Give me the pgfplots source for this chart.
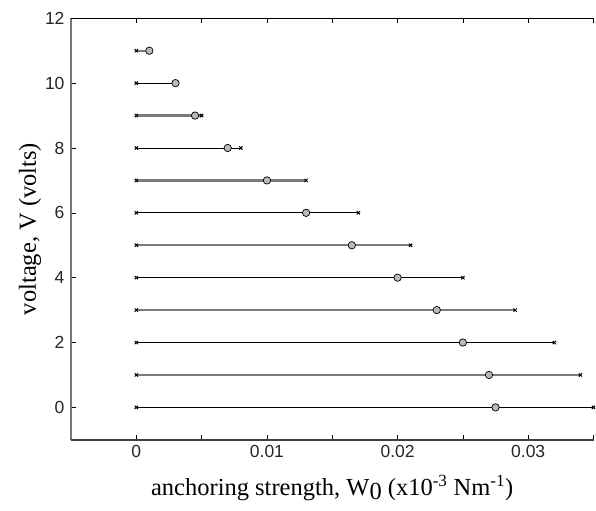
\documentclass[border=0pt]{standalone}
\usepackage{pgfplots}
\pgfplotsset{compat=1.18}
\usepackage{fontspec}
\setmainfont{Liberation Serif}
\newfontfamily\tickfont{Liberation Sans}

\definecolor{barGray}{RGB}{122,122,122}
\definecolor{dotGray}{RGB}{185,185,185}
\definecolor{axGray}{RGB}{120,120,120}

\begin{document}
\begin{tikzpicture}
\begin{axis}[
  scale only axis,
  width=522.5pt, height=421.5pt,
  xmin=-0.005, xmax=0.035,
  ymin=-1, ymax=12,
  xtick={0,0.01,0.02,0.03},
  minor xtick={0.005,0.015,0.025,0.035},
  ytick={0,2,4,6,8,10,12},
  xtick pos=both, ytick pos=left,
  tick align=inside,
  major tick length=5pt, minor tick length=5pt,
  every tick/.style={black, line width=0.6pt},
  minor tick style={black, line width=0.6pt},
  axis line style={draw=none},
  scaled x ticks=false,
  xticklabel style={/pgf/number format/fixed, /pgf/number format/precision=3},
  /pgf/number format/assume math mode=true,
  ticklabel style={font=\tickfont\fontsize{17.5}{17.5}\selectfont, text=black!85},
  xticklabel style={yshift=-2pt},
  yticklabel style={xshift=-3pt},
  xlabel={anchoring strength, W\raisebox{-4pt}{0} (x10\textsuperscript{-3} Nm\textsuperscript{-1})},
  ylabel={voltage, V (volts)},
  label style={font=\fontsize{24.5}{24.5}\selectfont},
  xlabel style={yshift=-11pt},
  ylabel style={yshift=-3pt},
  clip=false,
]
% bars from 0 to the upper value, with x marks at both ends
\addplot[black, line width=0.9pt, mark=x, mark size=2.3pt, mark options={black, line width=1pt},
  empty line=jump] table {
0      0
0.035  0

0      2
0.032  2

0      4
0.025  4

0      6
0.017  6

0      8
0.008  8

0      10
0.003  10
};
\addplot[barGray, line width=2.2pt, mark=x, mark size=2.3pt, mark options={black, line width=1pt},
  empty line=jump] table {
0      1
0.034  1

0      3
0.029  3

0      5
0.021  5

0      7
0.013  7

0      9
0.005  9

0      11
0.001  11
};
% circles
\addplot[only marks, mark=*, mark size=3.7pt, mark options={fill=dotGray, draw=black, line width=0.7pt}]
  table {
0.0275  0
0.0270  1
0.0250  2
0.0230  3
0.0200  4
0.0165  5
0.0130  6
0.0100  7
0.0070  8
0.0045  9
0.0030  10
0.0010  11
};
\draw[axGray, line width=1.8pt] (rel axis cs:0,0) -- (rel axis cs:0,1);
\draw[black!75, line width=1.5pt] (rel axis cs:0,0) -- (rel axis cs:1,0);
\draw[black, line width=0.7pt] (rel axis cs:0,1) -- (rel axis cs:1,1);
\end{axis}
\pgfresetboundingbox
\path (current axis.south west) ++(-71pt,-70.5pt) coordinate (bbA);
\path (current axis.north east) ++(2.5pt,18.3pt) coordinate (bbB);
\useasboundingbox (bbA) rectangle (bbB);
\end{tikzpicture}
\end{document}
